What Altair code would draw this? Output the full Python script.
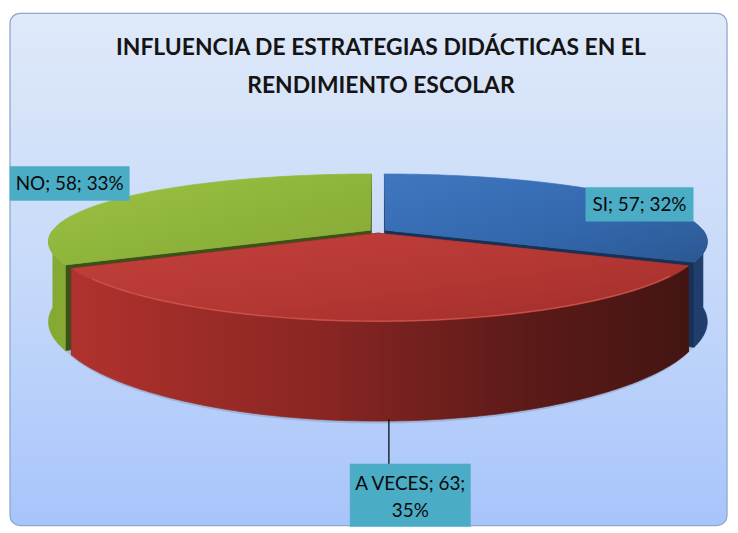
import math
import altair as alt
import pandas as pd

# ---------------- data ----------------
CATEGORIES = ["SI", "A VECES", "NO"]
VALUES = [57, 63, 58]
TITLE_LINES = ["INFLUENCIA DE ESTRATEGIAS DIDÁCTICAS EN EL", "RENDIMIENTO ESCOLAR"]

# ---------------- layout / style ----------------
W, H = 726, 521
OFF = 8
CX, CY = 380 - OFF, 231 - OFF   # pie centre
A, B = 320, 69                  # horizontal / vertical radius
KX, KY = 0.16, 0.214            # perspective
T = 78                          # thickness
E = 0.028                       # explosion

STYLE = {
    "SI": dict(
        top=alt.Gradient(gradient="linear", x1=0, y1=0, x2=1, y2=1,
                         stops=[alt.GradientStop(color="#3f77c0", offset=0),
                                alt.GradientStop(color="#3367ac", offset=0.6),
                                alt.GradientStop(color="#2b5892", offset=1)]),
        wall="#1f3e6c", face="#173158"),
    "A VECES": dict(
        top=alt.Gradient(gradient="linear", x1=0, y1=0, x2=1, y2=1,
                         stops=[alt.GradientStop(color="#c3413b", offset=0),
                                alt.GradientStop(color="#b63834", offset=0.5),
                                alt.GradientStop(color="#a02e2b", offset=1)]),
        wall=alt.Gradient(gradient="linear", x1=0, y1=0, x2=1, y2=0,
                          stops=[alt.GradientStop(color="#b0322e", offset=0),
                                 alt.GradientStop(color="#8a2623", offset=0.4),
                                 alt.GradientStop(color="#5a1a18", offset=0.75),
                                 alt.GradientStop(color="#431512", offset=1)]),
        face="#5a1a18", rim="#d65a52"),
    "NO": dict(
        top=alt.Gradient(gradient="linear", x1=0, y1=0, x2=1, y2=1,
                         stops=[alt.GradientStop(color="#9cc243", offset=0),
                                alt.GradientStop(color="#8db23a", offset=0.6),
                                alt.GradientStop(color="#86a934", offset=1)]),
        wall="#86a932", face="#3b5117"),
}

LABEL_POS = {  # page px: box x0, y0, x1, y1, first text line centre y
    "NO": (10, 166, 130, 200, 184),
    "SI": (589, 187, 697, 221, 205),
    "A VECES": (352, 465, 473, 528, 485),
}


def plane(a, r, off):
    t = math.radians(a)
    return r * math.sin(t) + off[0], -r * math.cos(t) + off[1]


def proj(u, v, depth=0.0):
    sx = 1.0 / (1.0 - KX * v)
    sy = 1.0 / (1.0 - KY * v)
    return [CX + A * u * sx, CY + (B * v + depth) * sy]


def feat(ring, closed=True):
    if closed:
        ring = ring + [ring[0]]
        geom = {"type": "Polygon", "coordinates": [ring]}
    else:
        geom = {"type": "LineString", "coordinates": ring}
    return {"type": "Feature", "properties": {}, "geometry": geom}


def arc_angles(a0, a1):
    n = max(2, int(abs(a1 - a0)) + 1)
    return [a0 + (a1 - a0) * i / (n - 1) for i in range(n)]


total = sum(VALUES)
slices = []
start = 0.0
for c, v in zip(CATEGORIES, VALUES):
    a1 = start + v / total * 360.0
    slices.append((c, v, start, a1))
    start = a1


def geo(feature, fill, sw=0.7):
    return alt.Chart(alt.Data(values=[feature])).mark_geoshape(
        fill=fill, stroke=fill, strokeWidth=sw)


layers = []

# panel
panel_grad = alt.Gradient(gradient="linear", x1=0, y1=0, x2=0, y2=1,
                          stops=[alt.GradientStop(color="#dfe9f9", offset=0),
                                 alt.GradientStop(color="#c7daf9", offset=0.5),
                                 alt.GradientStop(color="#a7c4fb", offset=1)])
layers.append(alt.Chart(alt.Data(values=[{}])).mark_rect(
    fill=panel_grad, stroke="#8fa9cc", strokeWidth=1.3, cornerRadius=10
).encode(x=alt.value(10 - OFF), x2=alt.value(731 - OFF),
         y=alt.value(12 - OFF), y2=alt.value(527 - OFF)))

# invisible frame that fixes the identity projection to pixel space
layers.append(alt.Chart(alt.Data(values=[feat([[0, 0], [W, 0], [W, H], [0, H]])]))
              .mark_geoshape(fillOpacity=0, strokeOpacity=0))

# soft shadow under the front of the pie
sh_angs = arc_angles(95, 265)
sh_ring = [proj(*plane(a, 1.0, (0, 0)), T + 5) for a in sh_angs] + \
          [proj(*plane(a, 0.985, (0, 0)), T - 6) for a in reversed(sh_angs)]
layers.append(alt.Chart(alt.Data(values=[feat(sh_ring)])).mark_geoshape(
    fill="#5a6a85", fillOpacity=0.25, strokeWidth=0))

# draw order: back slices first
order = sorted(slices, key=lambda s: -math.cos(math.radians((s[2] + s[3]) / 2)))
for c, v, a0, a1 in order:
    am = (a0 + a1) / 2
    off = (E * math.sin(math.radians(am)), -E * math.cos(math.radians(am)))
    st = STYLE[c]
    # radial faces
    for ea in (a0, a1):
        u, vv = plane(ea, 1, off)
        ring = [proj(*off), proj(u, vv), proj(u, vv, T), proj(off[0], off[1], T)]
        layers.append(geo(feat(ring), st["face"]))
    # outer wall (front-facing part only)
    w0, w1 = max(a0, 90.0), min(a1, 270.0)
    if w1 > w0:
        angs = arc_angles(w0, w1)
        topr = [proj(*plane(a, 1, off)) for a in angs]
        botr = [proj(*plane(a, 1, off), T) for a in reversed(angs)]
        layers.append(geo(feat(topr + botr), st["wall"]))
    # top face
    ring = [proj(*off)] + [proj(*plane(a, 1, off)) for a in arc_angles(a0, a1)]
    layers.append(geo(feat(ring), st["top"]))
    if "rim" in st:
        rim = [proj(*plane(a, 0.995, off)) for a in arc_angles(w0 + 8, w1 - 8)]
        layers.append(alt.Chart(alt.Data(values=[feat(rim, closed=False)])).mark_geoshape(
            filled=False, stroke=st["rim"], strokeWidth=1.2, strokeOpacity=0.8))

# label boxes and texts
lab_rows = []
box_feats = []
for c, v, a0, a1 in slices:
    pct = round(v / total * 100)
    x0, y0, x1, y1, ty = [p - OFF for p in LABEL_POS[c]]
    if c == "A VECES":
        txt = f"{c}; {v};\n{pct}%"
    else:
        txt = f"{c}; {v}; {pct}%"
    lab_rows.append({"lon": (x0 + x1) / 2, "lat": ty, "label": txt})
    box_feats.append(feat([[x0, y0], [x1, y0], [x1, y1], [x0, y1]]))

# leader line for A VECES
layers.append(alt.Chart(alt.Data(values=[{}])).mark_rule(color="#000000", strokeWidth=1.2)
              .encode(x=alt.value(391 - OFF), y=alt.value(420 - OFF), y2=alt.value(465 - OFF)))

layers.append(alt.Chart(alt.Data(values=box_feats)).mark_geoshape(
    fill="#4bacc6", stroke="#4bacc6", strokeWidth=0.5))
layers.append(alt.Chart(pd.DataFrame(lab_rows)).mark_text(
    font="Lato", fontSize=19, color="#0a0a0a", lineBreak="\n", lineHeight=27,
    align="center", baseline="middle"
).encode(longitude="lon:Q", latitude="lat:Q", text="label:N"))

# title
for i, line in enumerate(TITLE_LINES):
    layers.append(alt.Chart(alt.Data(values=[{"t": line}])).mark_text(
        font="Lato", fontSize=23, fontWeight="bold", color="#141414",
        align="center", baseline="middle"
    ).encode(text="t:N", x=alt.value(383 - OFF), y=alt.value(47 - OFF + 38 * i)))

chart = alt.layer(*layers).project(type="identity", reflectY=False).properties(
    width=W, height=H, padding=0, autosize=alt.AutoSizeParams(type="none"),
    background="white"
).configure_view(strokeWidth=0)

chart.save("out.html", embed_options={"renderer": "svg", "actions": False})
